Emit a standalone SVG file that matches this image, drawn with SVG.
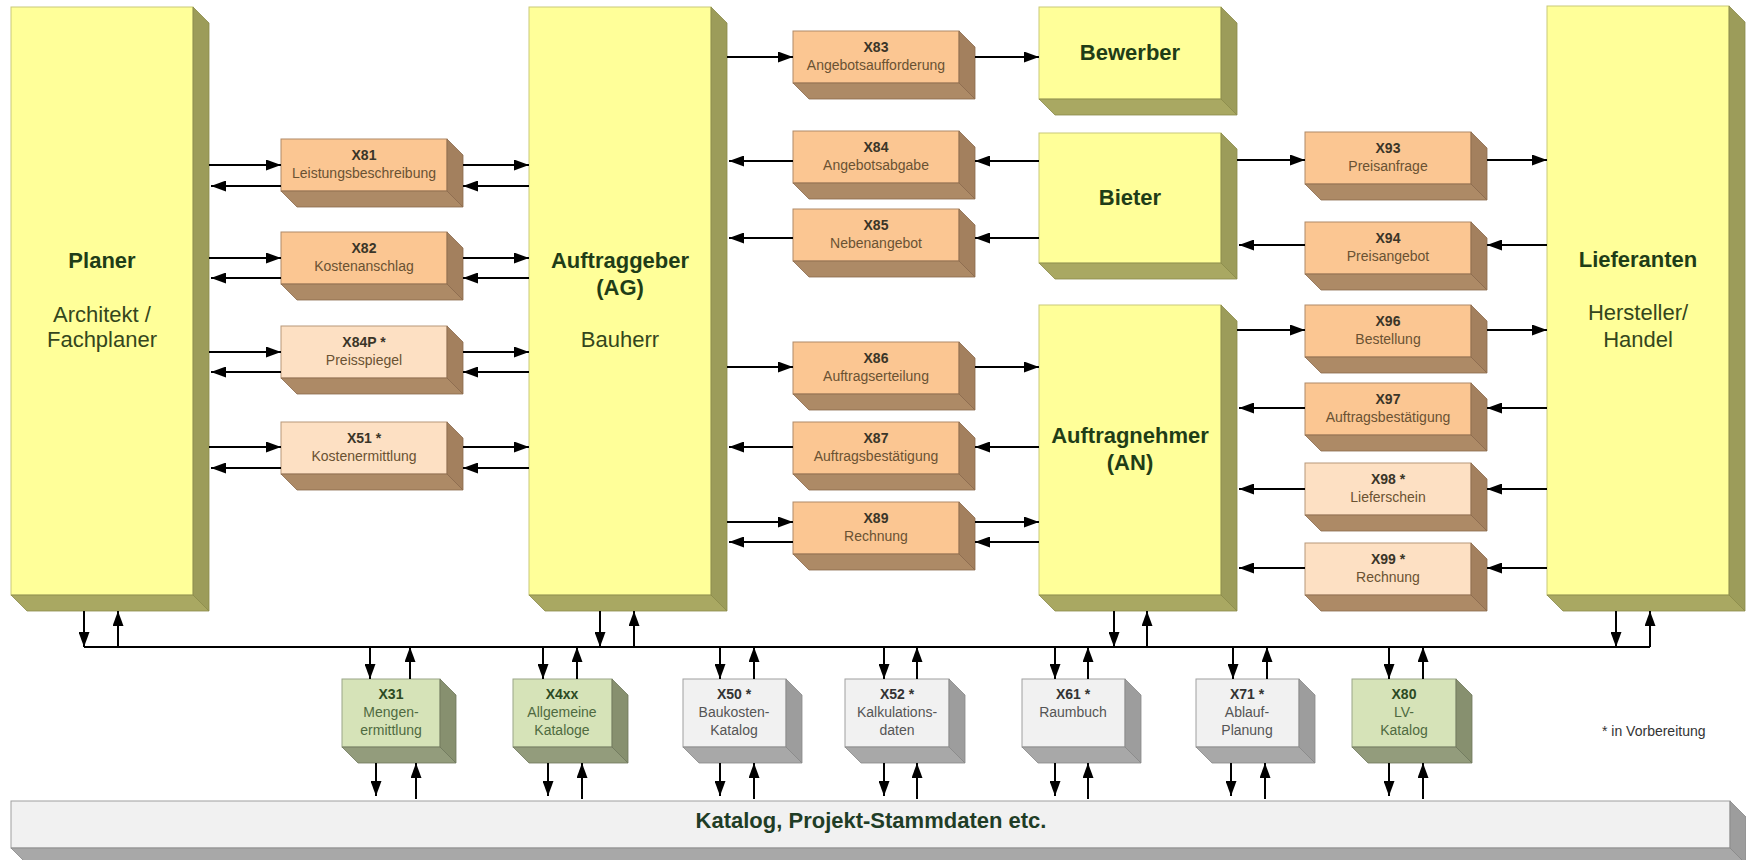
<svg xmlns="http://www.w3.org/2000/svg" width="1746" height="860" viewBox="0 0 1746 860">
<defs>
<marker id="ah" markerUnits="userSpaceOnUse" markerWidth="15" markerHeight="11" refX="15" refY="5.5" orient="auto">
<path d="M0,0 L15,5.5 L0,11 z" fill="#000"/>
</marker>
<style>
.yf{fill:#ffff99;stroke:#c9c97a;stroke-width:1}
.ys{fill:#9c9c5a;stroke:#8a8a4a;stroke-width:0.8}
.yb{fill:#a9a862;stroke:#8a8a4a;stroke-width:0.8}
.of{fill:#fbc692;stroke:#b08a68;stroke-width:1}
.pf{fill:#fde0c3;stroke:#b8987a;stroke-width:1}
.os{fill:#a3805e;stroke:#8a6a4c;stroke-width:0.8}
.ob{fill:#ad8a66;stroke:#8a6a4c;stroke-width:0.8}
.gf{fill:#d6e3b8;stroke:#9aa688;stroke-width:1}
.gs{fill:#87906f;stroke:#6f775c;stroke-width:0.8}
.gb{fill:#939c7c;stroke:#6f775c;stroke-width:0.8}
.wf{fill:#f1f1f1;stroke:#a0a0a0;stroke-width:1}
.ws{fill:#9d9d9d;stroke:#888;stroke-width:0.8}
.wb{fill:#a8a8a8;stroke:#888;stroke-width:0.8}
text{font-family:"Liberation Sans",Arial,sans-serif;text-anchor:middle}
.t{font-size:22px;font-weight:bold;fill:#1f3d17}
.st{font-size:22px;fill:#34461c}
.l{font-size:14px;font-weight:bold;fill:#3a3528}
.s{font-size:14px;fill:#6a5232}
.gl{font-size:14px;font-weight:bold;fill:#2c4a24}
.gsub{font-size:14px;fill:#4f6a40}
.wl{font-size:14px;font-weight:bold;fill:#333}
.wsub{font-size:14px;fill:#555}
.c line{stroke:#000;stroke-width:2;marker-end:url(#ah)}
.c path{stroke:#000;stroke-width:2;fill:none}
</style>
</defs>
<rect width="1746" height="860" fill="#fff"/>

<!-- main nodes -->
<g id="planer">
<rect class="yf" x="11" y="7" width="182" height="588"/>
<polygon class="ys" points="193,7 209,23 209,611 193,595"/>
<polygon class="yb" points="11,595 193,595 209,611 27,611"/>
<text class="t" x="102" y="268">Planer</text>
<text class="st" x="102" y="322">Architekt /</text>
<text class="st" x="102" y="347">Fachplaner</text>
</g>
<g id="auftraggeber">
<rect class="yf" x="529" y="7" width="182" height="588"/>
<polygon class="ys" points="711,7 727,23 727,611 711,595"/>
<polygon class="yb" points="529,595 711,595 727,611 545,611"/>
<text class="t" x="620" y="268">Auftraggeber</text>
<text class="t" x="620" y="295">(AG)</text>
<text class="st" x="620" y="347">Bauherr</text>
</g>
<g id="bewerber">
<rect class="yf" x="1039" y="7" width="182" height="92"/>
<polygon class="ys" points="1221,7 1237,23 1237,115 1221,99"/>
<polygon class="yb" points="1039,99 1221,99 1237,115 1055,115"/>
<text class="t" x="1130" y="60">Bewerber</text>
</g>
<g id="bieter">
<rect class="yf" x="1039" y="133" width="182" height="130"/>
<polygon class="ys" points="1221,133 1237,149 1237,279 1221,263"/>
<polygon class="yb" points="1039,263 1221,263 1237,279 1055,279"/>
<text class="t" x="1130" y="205">Bieter</text>
</g>
<g id="auftragnehmer">
<rect class="yf" x="1039" y="305" width="182" height="290"/>
<polygon class="ys" points="1221,305 1237,321 1237,611 1221,595"/>
<polygon class="yb" points="1039,595 1221,595 1237,611 1055,611"/>
<text class="t" x="1130" y="443">Auftragnehmer</text>
<text class="t" x="1130" y="470">(AN)</text>
</g>
<g id="lieferanten">
<rect class="yf" x="1547" y="6" width="182" height="589"/>
<polygon class="ys" points="1729,6 1745,22 1745,611 1729,595"/>
<polygon class="yb" points="1547,595 1729,595 1745,611 1563,611"/>
<text class="t" x="1638" y="267">Lieferanten</text>
<text class="st" x="1638" y="320">Hersteller/</text>
<text class="st" x="1638" y="347">Handel</text>
</g>

<!-- message boxes: left column -->
<g id="x81">
<rect class="of" x="281" y="139" width="166" height="52"/>
<polygon class="os" points="447,139 463,155 463,207 447,191"/>
<polygon class="ob" points="281,191 447,191 463,207 297,207"/>
<text class="l" x="364" y="160">X81</text>
<text class="s" x="364" y="178">Leistungsbeschreibung</text>
</g>
<g id="x82">
<rect class="of" x="281" y="232" width="166" height="52"/>
<polygon class="os" points="447,232 463,248 463,300 447,284"/>
<polygon class="ob" points="281,284 447,284 463,300 297,300"/>
<text class="l" x="364" y="253">X82</text>
<text class="s" x="364" y="271">Kostenanschlag</text>
</g>
<g id="x84p">
<rect class="pf" x="281" y="326" width="166" height="52"/>
<polygon class="os" points="447,326 463,342 463,394 447,378"/>
<polygon class="ob" points="281,378 447,378 463,394 297,394"/>
<text class="l" x="364" y="347">X84P *</text>
<text class="s" x="364" y="365">Preisspiegel</text>
</g>
<g id="x51">
<rect class="pf" x="281" y="422" width="166" height="52"/>
<polygon class="os" points="447,422 463,438 463,490 447,474"/>
<polygon class="ob" points="281,474 447,474 463,490 297,490"/>
<text class="l" x="364" y="443">X51 *</text>
<text class="s" x="364" y="461">Kostenermittlung</text>
</g>

<!-- middle column -->
<g id="x83">
<rect class="of" x="793" y="31" width="166" height="52"/>
<polygon class="os" points="959,31 975,47 975,99 959,83"/>
<polygon class="ob" points="793,83 959,83 975,99 809,99"/>
<text class="l" x="876" y="52">X83</text>
<text class="s" x="876" y="70">Angebotsaufforderung</text>
</g>
<g id="x84">
<rect class="of" x="793" y="131" width="166" height="52"/>
<polygon class="os" points="959,131 975,147 975,199 959,183"/>
<polygon class="ob" points="793,183 959,183 975,199 809,199"/>
<text class="l" x="876" y="152">X84</text>
<text class="s" x="876" y="170">Angebotsabgabe</text>
</g>
<g id="x85">
<rect class="of" x="793" y="209" width="166" height="52"/>
<polygon class="os" points="959,209 975,225 975,277 959,261"/>
<polygon class="ob" points="793,261 959,261 975,277 809,277"/>
<text class="l" x="876" y="230">X85</text>
<text class="s" x="876" y="248">Nebenangebot</text>
</g>
<g id="x86">
<rect class="of" x="793" y="342" width="166" height="52"/>
<polygon class="os" points="959,342 975,358 975,410 959,394"/>
<polygon class="ob" points="793,394 959,394 975,410 809,410"/>
<text class="l" x="876" y="363">X86</text>
<text class="s" x="876" y="381">Auftragserteilung</text>
</g>
<g id="x87">
<rect class="of" x="793" y="422" width="166" height="52"/>
<polygon class="os" points="959,422 975,438 975,490 959,474"/>
<polygon class="ob" points="793,474 959,474 975,490 809,490"/>
<text class="l" x="876" y="443">X87</text>
<text class="s" x="876" y="461">Auftragsbestätigung</text>
</g>
<g id="x89">
<rect class="of" x="793" y="502" width="166" height="52"/>
<polygon class="os" points="959,502 975,518 975,570 959,554"/>
<polygon class="ob" points="793,554 959,554 975,570 809,570"/>
<text class="l" x="876" y="523">X89</text>
<text class="s" x="876" y="541">Rechnung</text>
</g>

<!-- right column -->
<g id="x93">
<rect class="of" x="1305" y="132" width="166" height="52"/>
<polygon class="os" points="1471,132 1487,148 1487,200 1471,184"/>
<polygon class="ob" points="1305,184 1471,184 1487,200 1321,200"/>
<text class="l" x="1388" y="153">X93</text>
<text class="s" x="1388" y="171">Preisanfrage</text>
</g>
<g id="x94">
<rect class="of" x="1305" y="222" width="166" height="52"/>
<polygon class="os" points="1471,222 1487,238 1487,290 1471,274"/>
<polygon class="ob" points="1305,274 1471,274 1487,290 1321,290"/>
<text class="l" x="1388" y="243">X94</text>
<text class="s" x="1388" y="261">Preisangebot</text>
</g>
<g id="x96">
<rect class="of" x="1305" y="305" width="166" height="52"/>
<polygon class="os" points="1471,305 1487,321 1487,373 1471,357"/>
<polygon class="ob" points="1305,357 1471,357 1487,373 1321,373"/>
<text class="l" x="1388" y="326">X96</text>
<text class="s" x="1388" y="344">Bestellung</text>
</g>
<g id="x97">
<rect class="of" x="1305" y="383" width="166" height="52"/>
<polygon class="os" points="1471,383 1487,399 1487,451 1471,435"/>
<polygon class="ob" points="1305,435 1471,435 1487,451 1321,451"/>
<text class="l" x="1388" y="404">X97</text>
<text class="s" x="1388" y="422">Auftragsbestätigung</text>
</g>
<g id="x98">
<rect class="pf" x="1305" y="463" width="166" height="52"/>
<polygon class="os" points="1471,463 1487,479 1487,531 1471,515"/>
<polygon class="ob" points="1305,515 1471,515 1487,531 1321,531"/>
<text class="l" x="1388" y="484">X98 *</text>
<text class="s" x="1388" y="502">Lieferschein</text>
</g>
<g id="x99">
<rect class="pf" x="1305" y="543" width="166" height="52"/>
<polygon class="os" points="1471,543 1487,559 1487,611 1471,595"/>
<polygon class="ob" points="1305,595 1471,595 1487,611 1321,611"/>
<text class="l" x="1388" y="564">X99 *</text>
<text class="s" x="1388" y="582">Rechnung</text>
</g>

<!-- bottom data boxes -->
<g id="x31">
<rect class="gf" x="342" y="679" width="98" height="68"/>
<polygon class="gs" points="440,679 456,695 456,763 440,747"/>
<polygon class="gb" points="342,747 440,747 456,763 358,763"/>
<text class="gl" x="391" y="699">X31</text>
<text class="gsub" x="391" y="717">Mengen-</text>
<text class="gsub" x="391" y="735">ermittlung</text>
</g>
<g id="x4xx">
<rect class="gf" x="513" y="679" width="99" height="68"/>
<polygon class="gs" points="612,679 628,695 628,763 612,747"/>
<polygon class="gb" points="513,747 612,747 628,763 529,763"/>
<text class="gl" x="562" y="699">X4xx</text>
<text class="gsub" x="562" y="717">Allgemeine</text>
<text class="gsub" x="562" y="735">Kataloge</text>
</g>
<g id="x50">
<rect class="wf" x="683" y="679" width="103" height="68"/>
<polygon class="ws" points="786,679 802,695 802,763 786,747"/>
<polygon class="wb" points="683,747 786,747 802,763 699,763"/>
<text class="wl" x="734" y="699">X50 *</text>
<text class="wsub" x="734" y="717">Baukosten-</text>
<text class="wsub" x="734" y="735">Katalog</text>
</g>
<g id="x52">
<rect class="wf" x="845" y="679" width="104" height="68"/>
<polygon class="ws" points="949,679 965,695 965,763 949,747"/>
<polygon class="wb" points="845,747 949,747 965,763 861,763"/>
<text class="wl" x="897" y="699">X52 *</text>
<text class="wsub" x="897" y="717">Kalkulations-</text>
<text class="wsub" x="897" y="735">daten</text>
</g>
<g id="x61">
<rect class="wf" x="1022" y="679" width="103" height="68"/>
<polygon class="ws" points="1125,679 1141,695 1141,763 1125,747"/>
<polygon class="wb" points="1022,747 1125,747 1141,763 1038,763"/>
<text class="wl" x="1073" y="699">X61 *</text>
<text class="wsub" x="1073" y="717">Raumbuch</text>
</g>
<g id="x71">
<rect class="wf" x="1196" y="679" width="103" height="68"/>
<polygon class="ws" points="1299,679 1315,695 1315,763 1299,747"/>
<polygon class="wb" points="1196,747 1299,747 1315,763 1212,763"/>
<text class="wl" x="1247" y="699">X71 *</text>
<text class="wsub" x="1247" y="717">Ablauf-</text>
<text class="wsub" x="1247" y="735">Planung</text>
</g>
<g id="x80">
<rect class="gf" x="1352" y="679" width="104" height="68"/>
<polygon class="gs" points="1456,679 1472,695 1472,763 1456,747"/>
<polygon class="gb" points="1352,747 1456,747 1472,763 1368,763"/>
<text class="gl" x="1404" y="699">X80</text>
<text class="gsub" x="1404" y="717">LV-</text>
<text class="gsub" x="1404" y="735">Katalog</text>
</g>

<g id="stammdaten">
<rect class="wf" x="11" y="801" width="1719" height="47"/>
<polygon class="ws" points="1730,801 1746,817 1746,864 1730,848"/>
<polygon class="wb" points="11,848 1730,848 1746,864 27,864"/>
<text class="t" x="871" y="828" style="fill:#1f3d26">Katalog, Projekt-Stammdaten etc.</text>
</g>

<text x="1602" y="736" style="font-size:14px;fill:#333;text-anchor:start">* in Vorbereitung</text>

<!-- connectors -->
<g id="connectors" class="c">
<!-- Planer <-> AG via left column -->
<line x1="209" y1="165" x2="281" y2="165"/><line x1="281" y1="186" x2="211" y2="186"/>
<line x1="463" y1="165" x2="529" y2="165"/><line x1="529" y1="186" x2="463" y2="186"/>
<line x1="209" y1="258" x2="281" y2="258"/><line x1="281" y1="278" x2="211" y2="278"/>
<line x1="463" y1="258" x2="529" y2="258"/><line x1="529" y1="278" x2="463" y2="278"/>
<line x1="209" y1="352" x2="281" y2="352"/><line x1="281" y1="372" x2="211" y2="372"/>
<line x1="463" y1="352" x2="529" y2="352"/><line x1="529" y1="372" x2="463" y2="372"/>
<line x1="209" y1="447" x2="281" y2="447"/><line x1="281" y1="468" x2="211" y2="468"/>
<line x1="463" y1="447" x2="529" y2="447"/><line x1="529" y1="468" x2="463" y2="468"/>
<!-- AG <-> Bewerber/Bieter/AN -->
<line x1="727" y1="57" x2="793" y2="57"/><line x1="975" y1="57" x2="1039" y2="57"/>
<line x1="793" y1="161" x2="729" y2="161"/><line x1="1039" y1="161" x2="975" y2="161"/>
<line x1="793" y1="238" x2="729" y2="238"/><line x1="1039" y1="238" x2="975" y2="238"/>
<line x1="727" y1="367" x2="793" y2="367"/><line x1="975" y1="367" x2="1039" y2="367"/>
<line x1="793" y1="447" x2="729" y2="447"/><line x1="1039" y1="447" x2="975" y2="447"/>
<line x1="727" y1="522" x2="793" y2="522"/><line x1="975" y1="522" x2="1039" y2="522"/>
<line x1="793" y1="542" x2="729" y2="542"/><line x1="1039" y1="542" x2="975" y2="542"/>
<!-- Bieter/AN <-> Lieferanten -->
<line x1="1237" y1="160" x2="1305" y2="160"/><line x1="1487" y1="160" x2="1547" y2="160"/>
<line x1="1305" y1="245" x2="1239" y2="245"/><line x1="1547" y1="245" x2="1487" y2="245"/>
<line x1="1237" y1="330" x2="1305" y2="330"/><line x1="1487" y1="330" x2="1547" y2="330"/>
<line x1="1305" y1="408" x2="1239" y2="408"/><line x1="1547" y1="408" x2="1487" y2="408"/>
<line x1="1305" y1="489" x2="1239" y2="489"/><line x1="1547" y1="489" x2="1487" y2="489"/>
<line x1="1305" y1="568" x2="1239" y2="568"/><line x1="1547" y1="568" x2="1487" y2="568"/>
<!-- bus -->
<path d="M84,647 H1650"/>
<line x1="84" y1="611" x2="84" y2="647"/><line x1="118" y1="647" x2="118" y2="611"/>
<line x1="600" y1="611" x2="600" y2="647"/><line x1="634" y1="647" x2="634" y2="611"/>
<line x1="1114" y1="611" x2="1114" y2="647"/><line x1="1147" y1="647" x2="1147" y2="611"/>
<line x1="1616" y1="611" x2="1616" y2="647"/><line x1="1650" y1="647" x2="1650" y2="611"/>
<!-- bus to data boxes -->
<line x1="370" y1="647" x2="370" y2="679"/><line x1="410" y1="679" x2="410" y2="647"/>
<line x1="543" y1="647" x2="543" y2="679"/><line x1="577" y1="679" x2="577" y2="647"/>
<line x1="720" y1="647" x2="720" y2="679"/><line x1="754" y1="679" x2="754" y2="647"/>
<line x1="884" y1="647" x2="884" y2="679"/><line x1="917" y1="679" x2="917" y2="647"/>
<line x1="1055" y1="647" x2="1055" y2="679"/><line x1="1088" y1="679" x2="1088" y2="647"/>
<line x1="1233" y1="647" x2="1233" y2="679"/><line x1="1267" y1="679" x2="1267" y2="647"/>
<line x1="1389" y1="647" x2="1389" y2="679"/><line x1="1423" y1="679" x2="1423" y2="647"/>
<!-- data boxes to Stammdaten -->
<line x1="376" y1="763" x2="376" y2="796"/><line x1="416" y1="799" x2="416" y2="763"/>
<line x1="548" y1="763" x2="548" y2="796"/><line x1="582" y1="799" x2="582" y2="763"/>
<line x1="720" y1="763" x2="720" y2="796"/><line x1="754" y1="799" x2="754" y2="763"/>
<line x1="884" y1="763" x2="884" y2="796"/><line x1="917" y1="799" x2="917" y2="763"/>
<line x1="1055" y1="763" x2="1055" y2="796"/><line x1="1088" y1="799" x2="1088" y2="763"/>
<line x1="1231" y1="763" x2="1231" y2="796"/><line x1="1265" y1="799" x2="1265" y2="763"/>
<line x1="1389" y1="763" x2="1389" y2="796"/><line x1="1423" y1="799" x2="1423" y2="763"/>
</g>
</svg>
